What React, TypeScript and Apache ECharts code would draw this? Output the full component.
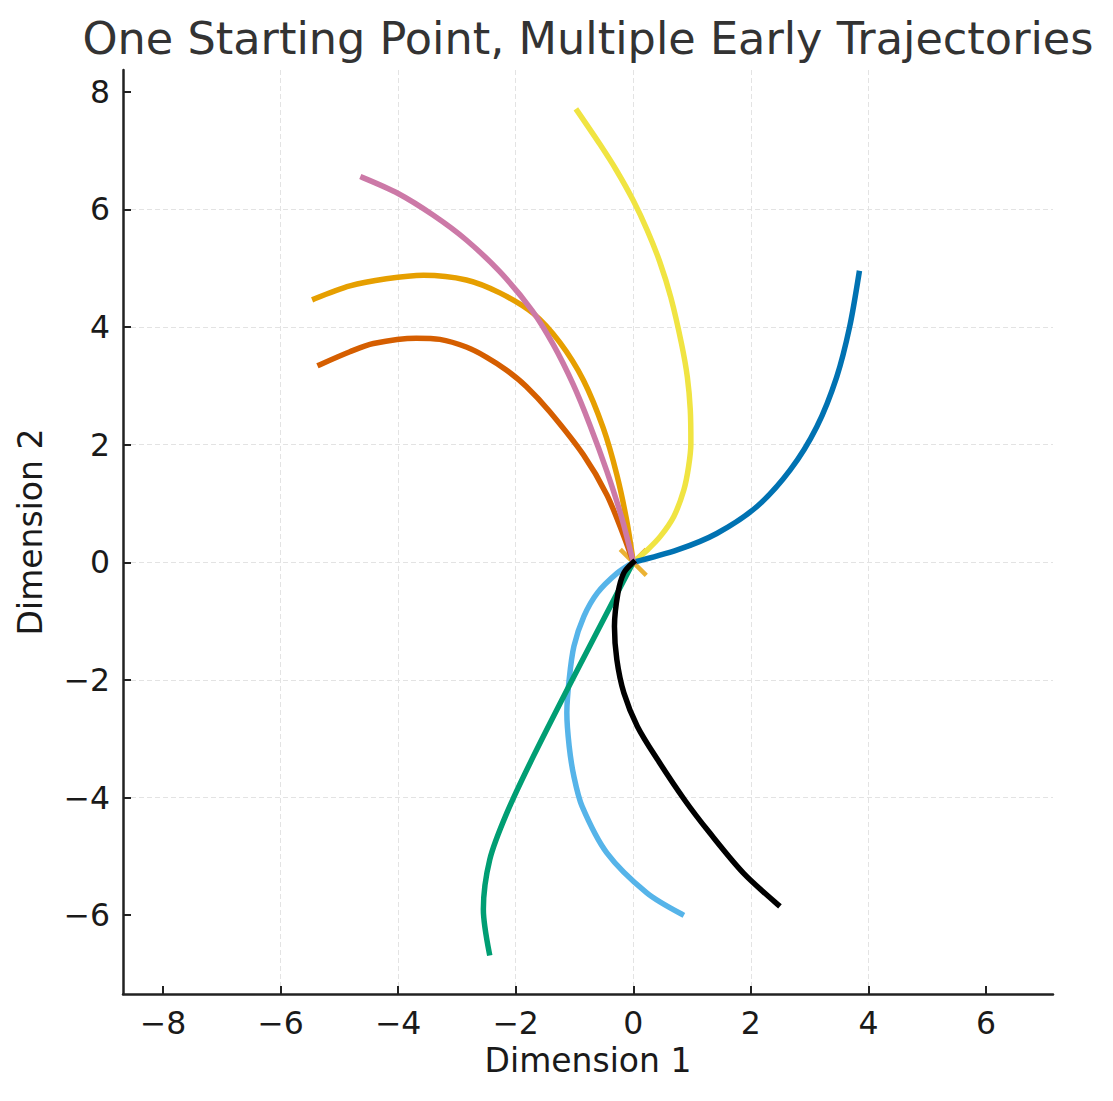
import { useEffect, useRef } from 'react';
import * as echarts from 'echarts';

// 轨迹数据：每条都从原点出发，按图上读数估计
const startPoint = [[0, 0]];

const orangePath = [
  [0, 0], [-0.11, 0.7], [-0.28, 1.49], [-0.51, 2.28], [-0.85, 3.1], [-1.25, 3.74],
  [-1.7, 4.23], [-2.27, 4.58], [-2.84, 4.8], [-3.57, 4.88], [-4.2, 4.82], [-4.82, 4.7],
  [-5.42, 4.48],
];
const skyBluePath = [
  [0, 0], [-0.27, -0.18], [-0.61, -0.52], [-0.84, -0.92], [-1.01, -1.43], [-1.09, -1.99],
  [-1.13, -2.56], [-1.09, -3.13], [-1.01, -3.64], [-0.87, -4.15], [-0.45, -4.94],
  [0.23, -5.62], [0.82, -5.98],
];
const greenPath = [
  [0, 0], [-1.04, -2.0], [-1.7, -3.3], [-2.15, -4.26], [-2.44, -5.05], [-2.55, -5.9],
  [-2.45, -6.64],
];
const yellowPath = [
  [0, 0], [0.24, 0.21], [0.46, 0.44], [0.69, 0.78], [0.86, 1.23], [0.94, 1.62],
  [0.98, 2.02], [0.97, 2.59], [0.92, 3.15], [0.82, 3.72], [0.64, 4.5], [0.45, 5.11],
  [0.24, 5.64], [0, 6.15], [-0.29, 6.67], [-0.57, 7.11], [-0.95, 7.67],
];
const bluePath = [
  [0, 0], [0.75, 0.21], [1.42, 0.49], [2.1, 0.945], [2.67, 1.57], [3.12, 2.3],
  [3.46, 3.15], [3.68, 4.0], [3.84, 4.91],
];
const vermilionPath = [
  [0, 0], [-0.17, 0.47], [-0.45, 1.15], [-0.85, 1.83], [-1.42, 2.56], [-1.82, 2.99],
  [-2.16, 3.27], [-2.5, 3.49], [-2.84, 3.66], [-3.29, 3.79], [-3.69, 3.81], [-4.42, 3.72],
  [-4.82, 3.58], [-5.33, 3.36],
];
const pinkPath = [
  [0, 0], [-0.2, 0.77], [-0.45, 1.55], [-0.74, 2.34], [-1.02, 3.02], [-1.36, 3.7],
  [-1.72, 4.28], [-2.27, 4.94], [-2.84, 5.48], [-3.4, 5.9], [-4.0, 6.27], [-4.6, 6.54],
];
const blackPath = [
  [0, 0], [-0.16, -0.18], [-0.26, -0.52], [-0.32, -1.09], [-0.28, -1.65], [-0.16, -2.22],
  [0.07, -2.79], [0.41, -3.35], [0.88, -4.05], [1.3, -4.6], [1.87, -5.28], [2.46, -5.82],
];

const trajectories = [
  { data: orangePath, color: '#E69F00' },
  { data: skyBluePath, color: '#56B4E9' },
  { data: greenPath, color: '#009E73' },
  { data: yellowPath, color: '#F0E442' },
  { data: bluePath, color: '#0072B2' },
  { data: vermilionPath, color: '#D55E00' },
  { data: pinkPath, color: '#CC79A7' },
  { data: blackPath, color: '#000000' },
];

const xTicks = [-8, -6, -4, -2, 0, 2, 4, 6];
const yTicks = [-6, -4, -2, 0, 2, 4, 6, 8];

const FONT = '"DejaVu Sans", sans-serif';
const TEXT = '#1a1a1a';
const minus = (v: number) => String(v).replace('-', '\u2212');

export default function App() {
  const ref = useRef<HTMLDivElement>(null);

  useEffect(() => {
    if (!ref.current) return;
    const chart = echarts.init(ref.current, undefined, { renderer: 'svg' });

    const axisCommon = {
      type: 'value' as const,
      nameLocation: 'middle' as const,
      nameTextStyle: { fontFamily: FONT, fontSize: 33, color: TEXT },
      axisLine: { show: true, onZero: false, lineStyle: { color: '#222', width: 2.5 } },
      axisTick: { show: true, inside: true, length: 8, lineStyle: { color: '#222', width: 2 } },
      splitLine: {
        show: true,
        showMinLine: false,
        showMaxLine: false,
        lineStyle: { color: '#e3e3e3', width: 1, type: [5, 3] },
      },
    };
    const labelCommon = {
      margin: 13,
      fontFamily: FONT,
      fontSize: 31.5,
      color: TEXT,
      formatter: minus,
    };

    chart.setOption({
      animation: false,
      backgroundColor: '#ffffff',
      title: {
        text: 'One Starting Point, Multiple Early Trajectories',
        left: 588,
        top: 16,
        padding: 0,
        textAlign: 'center',
        textStyle: { fontFamily: FONT, fontSize: 44.6, fontWeight: 'normal', color: '#333' },
      },
      grid: { left: 123, right: 60, top: 70, bottom: 107, containLabel: false },
      xAxis: {
        ...axisCommon,
        name: 'Dimension 1',
        nameGap: 46,
        min: -8.68,
        max: 7.14,
        axisTick: { ...axisCommon.axisTick, customValues: xTicks },
        axisLabel: { ...labelCommon, customValues: xTicks },
      },
      yAxis: {
        ...axisCommon,
        name: 'Dimension 2',
        nameGap: 76,
        min: -7.34,
        max: 8.37,
        axisTick: { ...axisCommon.axisTick, customValues: yTicks },
        axisLabel: { ...labelCommon, customValues: yTicks },
      },
      series: [
        {
          type: 'scatter',
          data: startPoint,
          symbol: 'path://M0,0L10,10M10,0L0,10',
          symbolSize: 26,
          itemStyle: { color: 'transparent', borderColor: '#E69F00', borderWidth: 4.5 },
          z: 1,
        },
        ...trajectories.map((t, i) => ({
          type: 'line',
          data: t.data,
          symbol: 'none',
          smooth: 0.3,
          z: 2 + i,
          lineStyle: { color: t.color, width: 5.5, cap: 'square' },
        })),
      ],
    });

    return () => chart.dispose();
  }, []);

  return (
    <div
      ref={ref}
      style={{ position: 'fixed', left: 0, top: 0, width: 1113, height: 1101 }}
    />
  );
}
